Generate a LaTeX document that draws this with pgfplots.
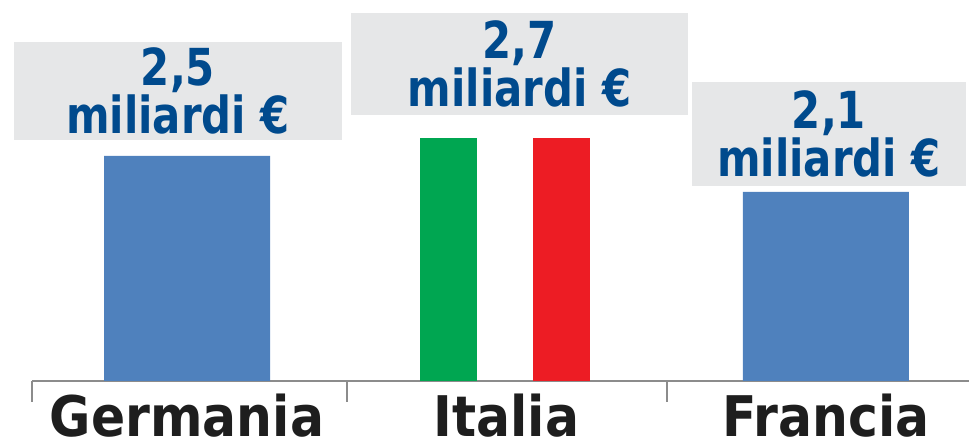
\documentclass[border=0pt]{standalone}
\usepackage{pgfplots}
\pgfplotsset{compat=1.18}
\usepackage{fontspec}
\setmainfont{DejaVu Sans}
\newfontfamily\valfont{DejaVu Sans}[FakeStretch=0.82]
\newfontfamily\catfont{DejaVu Sans}[FakeStretch=0.9]
\definecolor{barblue}{HTML}{4F81BD}
\definecolor{itgreen}{HTML}{00A651}
\definecolor{itred}{HTML}{ED1C24}
\definecolor{valblue}{HTML}{004A8D}
\definecolor{boxgray}{HTML}{E6E7E8}
\definecolor{catdark}{HTML}{1E1E1E}
\definecolor{axgray}{HTML}{8C8C8C}
\begin{document}
\begin{tikzpicture}
\begin{axis}[
    width=468.5pt, height=190.5pt, scale only axis,
    xmin=-0.4851, xmax=2.4476, ymin=0, ymax=4.2333,
    axis x line*=bottom, axis y line=none,
    x axis line style={axgray, line width=1pt, -},
    xtick={-0.4851,0.5008,1.503},
    xticklabels={},
    xtick align=outside,
    major tick length=10.5pt,
    xtick style={axgray, line width=1pt},
    extra x ticks={0,1,2},
    extra x tick labels={Germania,Italia,Francia},
    extra x tick style={major tick length=0pt,
      tick label style={font=\catfont\bfseries\fontsize{28}{30}\selectfont,
        text=catdark, inner sep=0pt, anchor=north, yshift=-6.5pt}},
    clip=false,
    ]
% Germania, Francia
\addplot[ybar, bar shift=0pt, bar width=83pt, fill=barblue, draw=none]
  coordinates {(0,2.5) (2,2.1)};
% Italia (tricolore)
\addplot[ybar, bar shift=0pt, bar width=28.5pt, fill=itgreen, draw=none]
  coordinates {(0.8185,2.7)};
\addplot[ybar, bar shift=0pt, bar width=28.5pt, fill=itred, draw=none]
  coordinates {(1.1721,2.7)};

\tikzset{vbox/.style={fill=boxgray, inner sep=0pt, align=center, text=valblue,
  font=\valfont\bfseries\fontsize{25.5}{20.5}\selectfont}}
\node[vbox, minimum width=164pt, minimum height=49pt] at (axis cs:-0.0282,3.222) {2,5\\miliardi €};
\node[vbox, minimum width=168.5pt, minimum height=51pt] at (axis cs:1.0407,3.522) {2,7\\miliardi €};
\node[vbox, minimum width=137pt, minimum height=52pt] at (axis cs:2.0094,2.744) {2,1\\miliardi €};

\coordinate (bl) at (axis cs:-0.5853,-0.6889);
\coordinate (tr) at (axis cs:2.4476,4.2333);
\end{axis}
\pgfresetboundingbox
\path[use as bounding box] (bl) rectangle (tr);
\end{tikzpicture}
\end{document}
